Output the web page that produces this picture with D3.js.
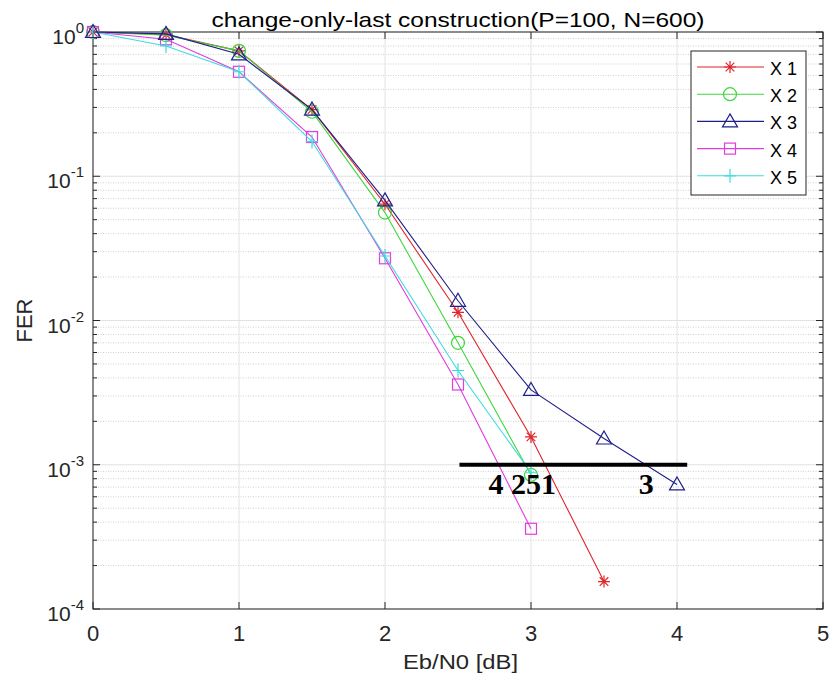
<!DOCTYPE html>
<html><head><meta charset="utf-8">
<script src="https://cdn.jsdelivr.net/npm/d3@7"></script>
<style>body{margin:0;background:#fff}svg{display:block}</style>
</head><body><svg id="c" width="831" height="679"></svg>
<script>
const xTicks = [0,1,2,3,4,5];
const yTickExps = [0,-1,-2,-3,-4];
const seriesNames = ["X 1","X 2","X 3","X 4","X 5"];
const ebn0_1 = [0,0.5,1,1.5,2,2.5,3,3.5];
const fer_1  = [1.0,0.96,0.74,0.29,0.064,0.0114,0.00156,0.000155];
const ebn0_2 = [0,0.5,1,1.5,2,2.5,3];
const fer_2  = [1.0,0.95,0.74,0.28,0.056,0.0070,0.00085];
const ebn0_3 = [0,0.5,1,1.5,2,2.5,3,3.5,4];
const fer_3  = [1.0,0.97,0.70,0.29,0.068,0.0137,0.0033,0.00152,0.00073];
const ebn0_4 = [0,0.5,1,1.5,2,2.5,3];
const fer_4  = [1.0,0.89,0.53,0.187,0.027,0.0036,0.00036];
const ebn0_5 = [0,0.5,1,1.5,2,2.5,3];
const fer_5  = [1.0,0.80,0.53,0.174,0.028,0.0045,0.00088];
const annotLabels = ["4 251","3"];
const annotX = [2.94, 3.79];
const annotLineX = [2.51, 4.07];
const annotLineY = 1e-3;

const colors = ["#e0252b","#3ed63e","#1f1f8c","#e03ce0","#3fdcdc"];
const markers = ["star","circle","triangle","square","plus"];
const xs = [ebn0_1,ebn0_2,ebn0_3,ebn0_4,ebn0_5];
const ys = [fer_1,fer_2,fer_3,fer_4,fer_5];

const L=93,R=823,T=32,B=609;
const svg = d3.select("#c");
const x = d3.scaleLinear().domain([0,5]).range([L,R]);
const y = d3.scaleLog().domain([1e-4,1]).range([B,T]);
const font = "'Liberation Sans', Arial, sans-serif";

// grid
const g = svg.append("g");
const minors = [];
for (let e=-4;e<0;e++) for (let m=2;m<=9;m++) minors.push(m*Math.pow(10,e));
g.selectAll(".mg").data(minors).enter().append("line")
 .attr("x1",L).attr("x2",R).attr("y1",d=>y(d)).attr("y2",d=>y(d))
 .attr("stroke","#cfcfcf").attr("stroke-width",1).attr("stroke-dasharray","1,1.5");
g.selectAll(".yg").data(yTickExps).enter().append("line")
 .attr("x1",L).attr("x2",R).attr("y1",d=>y(Math.pow(10,d))).attr("y2",d=>y(Math.pow(10,d)))
 .attr("stroke","#e2e2e2").attr("stroke-width",1);
g.selectAll(".xg").data(xTicks).enter().append("line")
 .attr("y1",T).attr("y2",B).attr("x1",d=>x(d)).attr("x2",d=>x(d))
 .attr("stroke","#e2e2e2").attr("stroke-width",1);

// axes box & ticks
const ax = svg.append("g").attr("stroke","#262626").attr("stroke-width",1);
ax.append("rect").attr("x",L).attr("y",T).attr("width",R-L).attr("height",B-T).attr("fill","none");
xTicks.forEach(v=>{
  ax.append("line").attr("x1",x(v)).attr("x2",x(v)).attr("y1",B).attr("y2",B-7);
  ax.append("line").attr("x1",x(v)).attr("x2",x(v)).attr("y1",T).attr("y2",T+7);
});
yTickExps.forEach(e=>{
  const yy=y(Math.pow(10,e));
  ax.append("line").attr("x1",L).attr("x2",L+7).attr("y1",yy).attr("y2",yy);
  ax.append("line").attr("x1",R).attr("x2",R-7).attr("y1",yy).attr("y2",yy);
});
minors.forEach(v=>{
  const yy=y(v);
  ax.append("line").attr("x1",L).attr("x2",L+4).attr("y1",yy).attr("y2",yy);
  ax.append("line").attr("x1",R).attr("x2",R-4).attr("y1",yy).attr("y2",yy);
});

// tick labels
svg.selectAll(".xl").data(xTicks).enter().append("text")
 .attr("x",d=>x(d)).attr("y",B+32).attr("text-anchor","middle")
 .attr("font-family",font).attr("font-size",22).attr("fill","#262626").text(d=>d);
yTickExps.forEach(e=>{
  const t = svg.append("text").attr("x",L-9).attr("y",y(Math.pow(10,e))+12).attr("text-anchor","end")
    .attr("font-family",font).attr("font-size",21).attr("fill","#262626");
  t.append("tspan").text("10");
  t.append("tspan").attr("dy",-11).attr("font-size",15).text(e);
});
svg.append("text").attr("x",460.5).attr("y",669).attr("text-anchor","middle")
 .attr("font-family",font).attr("font-size",20).attr("fill","#262626")
 .attr("textLength",115).attr("lengthAdjust","spacingAndGlyphs").text("Eb/N0 [dB]");
svg.append("text").attr("transform",`translate(32,${(T+B)/2}) rotate(-90)`).attr("text-anchor","middle")
 .attr("font-family",font).attr("font-size",22).attr("fill","#262626").text("FER");
svg.append("text").attr("x",(L+R)/2).attr("y",27).attr("text-anchor","middle")
 .attr("font-family",font).attr("font-size",21).attr("fill","#000")
 .attr("textLength",493).attr("lengthAdjust","spacingAndGlyphs").text("change-only-last construction(P=100, N=600)");

function drawMarker(sel, type, cx, cy, col){
  const m = sel.append("g").attr("transform",`translate(${cx},${cy})`).attr("stroke",col).attr("fill","none").attr("stroke-width",1.2);
  if (type==="star"){
    m.append("path").attr("d","M-6,0H6M0,-6V6M-4.3,-4.3L4.3,4.3M-4.3,4.3L4.3,-4.3");
  } else if (type==="circle"){
    m.append("circle").attr("r",6.5);
  } else if (type==="triangle"){
    m.append("path").attr("d","M0,-7.5L7.5,5.5H-7.5Z");
  } else if (type==="square"){
    m.append("rect").attr("x",-5.5).attr("y",-5.5).attr("width",11).attr("height",11);
  } else if (type==="plus"){
    m.append("path").attr("d","M-6,0H6M0,-7V7");
  }
}

const line = d3.line().x(d=>x(d[0])).y(d=>y(d[1]));
const plot = svg.append("g");
[0,1,3,4,2].forEach(i=>{
  const pts = xs[i].map((v,k)=>[v,ys[i][k]]);
  plot.append("path").attr("d",line(pts)).attr("fill","none").attr("stroke",colors[i]).attr("stroke-width",1.1);
  pts.forEach(p=>drawMarker(plot,markers[i],x(p[0]),y(p[1]),colors[i]));
});

// annotation
svg.append("line").attr("x1",x(annotLineX[0])).attr("x2",x(annotLineX[1]))
 .attr("y1",y(annotLineY)).attr("y2",y(annotLineY)).attr("stroke","#000").attr("stroke-width",4);
annotLabels.forEach((s,i)=>{
  svg.append("text").attr("x",x(annotX[i])).attr("y",y(annotLineY)+29).attr("text-anchor","middle")
   .attr("font-family","'Liberation Serif','DejaVu Serif',serif").attr("font-weight","bold").attr("font-size",30)
   .attr("fill","#000").text(s);
});

// legend
const lg = svg.append("g");
lg.append("rect").attr("x",691).attr("y",51).attr("width",115).attr("height",144)
 .attr("fill","#fff").attr("stroke","#262626").attr("stroke-width",1);
seriesNames.forEach((n,i)=>{
  const yy = 67 + i*27.2;
  lg.append("line").attr("x1",697).attr("x2",764).attr("y1",yy).attr("y2",yy).attr("stroke",colors[i]).attr("stroke-width",1.1);
  drawMarker(lg,markers[i],730,yy,colors[i]);
  lg.append("text").attr("x",770).attr("y",yy+8).attr("font-family",font).attr("font-size",18).attr("fill","#000").text(n);
});
</script></body></html>
